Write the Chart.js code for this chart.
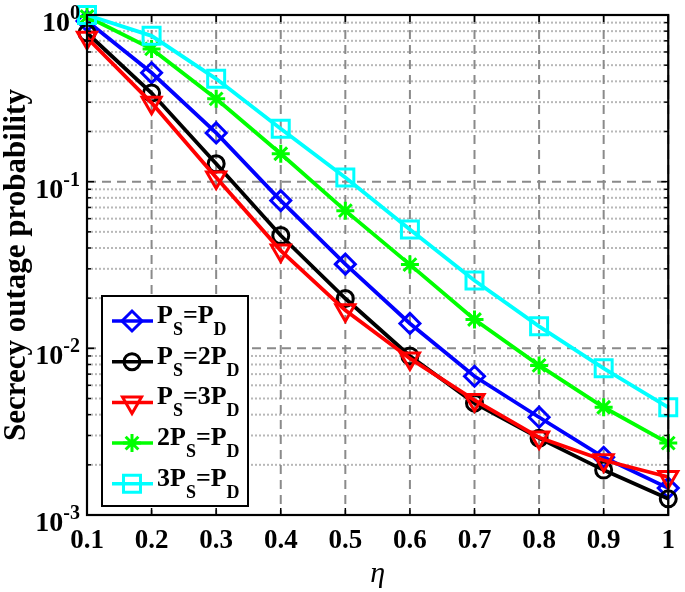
<!DOCTYPE html>
<html>
<head>
<meta charset="utf-8">
<script src="https://cdn.jsdelivr.net/npm/chart.js@4.4.1/dist/chart.umd.min.js"></script>
<style>
  html, body { margin: 0; padding: 0; background: #fff; }
</style>
</head>
<body>
<canvas id="chart" width="685" height="592"></canvas>
<script>
  // values
  const eta = [0.1, 0.2, 0.3, 0.4, 0.5, 0.6, 0.7, 0.8, 0.9, 1];
  const psEqPd   = [0.92, 0.45, 0.196, 0.077, 0.032, 0.0141, 0.0068, 0.00386, 0.00222, 0.00145];
  const psEq2Pd  = [0.78, 0.34, 0.128, 0.0475, 0.0199, 0.0090, 0.00469, 0.00289, 0.00186, 0.00125];
  const psEq3Pd  = [0.73, 0.297, 0.106, 0.0386, 0.0169, 0.0087, 0.00489, 0.00292, 0.00213, 0.00169];
  const ps2EqPd  = [0.98, 0.626, 0.314, 0.147, 0.067, 0.0318, 0.0149, 0.0079, 0.00443, 0.0027];
  const ps3EqPd  = [1.0, 0.75, 0.414, 0.208, 0.106, 0.0516, 0.0255, 0.01355, 0.00759, 0.00443];

  const xTicks = eta;
  const yDecades = [0.001, 0.01, 0.1, 1];
  const yMinorSteps = [2, 3, 4, 5, 6, 7, 8, 9];

  const seriesNames = ['P_S=P_D', 'P_S=2P_D', 'P_S=3P_D', '2P_S=P_D', '3P_S=P_D'];
  const seriesData = [psEqPd, psEq2Pd, psEq3Pd, ps2EqPd, ps3EqPd];
  const seriesColors = ['#0000ff', '#000000', '#ff0000', '#00ff00', '#00ffff'];
  const seriesMarkers = [
    { pointStyle: 'rectRot', radius: 10, rotation: 0 },
    { pointStyle: 'circle', radius: 8, rotation: 0 },
    { pointStyle: 'triangle', radius: 11, rotation: 180 },
    { pointStyle: 'star', radius: 9, rotation: 0 },
    { pointStyle: 'rect', radius: 12, rotation: 0 }
  ];

  const FONT = '"Liberation Serif", "Times New Roman", serif';

  const yTickValues = [];
  yDecades.forEach(d => {
    yTickValues.push(d);
    if (d < 1) yMinorSteps.forEach(m => yTickValues.push(m * d));
  });
  const isDecade = v => Math.abs(Math.log10(v) - Math.round(Math.log10(v))) < 1e-9;

  function seg(ctx, x1, y1, x2, y2) {
    ctx.beginPath(); ctx.moveTo(x1, y1); ctx.lineTo(x2, y2); ctx.stroke();
  }

  // text with one-character subscripts after "_"
  function drawSubText(ctx, str, x, y) {
    let cx = x;
    for (let i = 0; i < str.length; i++) {
      let ch = str[i], sub = false;
      if (ch === '_') { ch = str[++i]; sub = true; }
      ctx.font = sub ? 'bold 18px ' + FONT : 'bold 26px ' + FONT;
      ctx.fillText(ch, cx, sub ? y + 12 : y);
      cx += ctx.measureText(ch).width;
    }
  }

  const matlabAxes = {
    id: 'matlabAxes',
    beforeDatasetsDraw(chart) {
      const { ctx, chartArea: a, scales: { x, y } } = chart;
      ctx.save();
      ctx.lineWidth = 2;
      y.ticks.forEach(t => {
        const py = y.getPixelForValue(t.value);
        const major = isDecade(t.value);
        ctx.strokeStyle = major ? '#8a8a8a' : '#b8b8b8';
        ctx.setLineDash(major ? [9, 6] : [2, 2]);
        seg(ctx, a.left, py, a.right, py);
      });
      ctx.strokeStyle = '#8a8a8a';
      ctx.setLineDash([9, 6]);
      x.ticks.forEach(t => {
        const px = x.getPixelForValue(t.value);
        seg(ctx, px, a.top, px, a.bottom);
      });
      ctx.restore();
    },
    afterDraw(chart) {
      const { ctx, chartArea: a, scales: { x, y } } = chart;
      ctx.save();
      ctx.setLineDash([]);
      ctx.strokeStyle = '#000';
      ctx.lineWidth = 1.5;
      x.ticks.forEach(t => {
        const px = x.getPixelForValue(t.value);
        seg(ctx, px, a.bottom, px, a.bottom - 7);
        seg(ctx, px, a.top, px, a.top + 7);
      });
      y.ticks.forEach(t => {
        const py = y.getPixelForValue(t.value);
        const len = isDecade(t.value) ? 7 : 4;
        seg(ctx, a.left, py, a.left + len, py);
        seg(ctx, a.right, py, a.right - len, py);
      });
      ctx.lineWidth = 2.2;
      ctx.strokeRect(a.left, a.top, a.right - a.left, a.bottom - a.top);

      // y tick labels 10^n
      ctx.fillStyle = '#000';
      ctx.textAlign = 'right';
      ctx.textBaseline = 'alphabetic';
      yDecades.forEach(d => {
        const py = y.getPixelForValue(d);
        const expo = String(Math.round(Math.log10(d)));
        ctx.font = 'bold 20px ' + FONT;
        const ew = ctx.measureText(expo).width;
        ctx.fillText(expo, 80, py + 4);
        ctx.font = 'bold 28px ' + FONT;
        ctx.fillText('10', 80 - ew, py + 16);
      });

      // y axis title
      ctx.save();
      ctx.translate(25, (a.top + a.bottom) / 2);
      ctx.rotate(-Math.PI / 2);
      ctx.textAlign = 'center';
      ctx.font = 'bold 31px ' + FONT;
      ctx.fillText('Secrecy outage probability', 0, 0);
      ctx.restore();

      // legend
      const lx = 102, ly = 296, lw = 146, lh = 210, rowH = 40.7;
      ctx.fillStyle = '#fff';
      ctx.fillRect(lx, ly, lw, lh);
      ctx.strokeStyle = '#000';
      ctx.lineWidth = 2;
      ctx.strokeRect(lx, ly, lw, lh);
      seriesNames.forEach((name, i) => {
        const ry = ly + 25 + i * rowH;
        ctx.strokeStyle = seriesColors[i];
        ctx.lineWidth = 3.5;
        seg(ctx, lx + 10, ry, lx + 51, ry);
        ctx.fillStyle = 'rgba(0,0,0,0)';
        ctx.lineWidth = 3;
        Chart.helpers.drawPoint(ctx, { ...seriesMarkers[i], borderWidth: 3 }, lx + 30, ry);
        ctx.fillStyle = '#000';
        ctx.textAlign = 'left';
        drawSubText(ctx, name, lx + 55, ry + 2);
      });
      ctx.restore();
    }
  };

  const datasets = seriesNames.map((name, i) => ({
    label: name,
    data: seriesData[i],
    borderColor: seriesColors[i],
    backgroundColor: 'rgba(0,0,0,0)',
    borderWidth: 3.8,
    pointStyle: seriesMarkers[i].pointStyle,
    pointRadius: seriesMarkers[i].radius,
    pointRotation: seriesMarkers[i].rotation,
    pointBorderWidth: 3,
    pointBorderColor: seriesColors[i],
    pointBackgroundColor: 'rgba(0,0,0,0)',
    tension: 0,
    clip: false,
    order: 5 - i
  }));

  new Chart(document.getElementById('chart'), {
    type: 'line',
    data: { labels: eta, datasets },
    options: {
      responsive: false,
      animation: false,
      layout: { padding: { left: 0, right: 13, top: 14, bottom: 0 } },
      plugins: { legend: { display: false }, tooltip: { enabled: false } },
      scales: {
        x: {
          type: 'linear',
          min: 0.1, max: 1,
          afterBuildTicks: s => { s.ticks = xTicks.map(v => ({ value: v })); },
          afterFit: s => { s.height = 77; },
          grid: { display: false, drawTicks: false },
          border: { display: false },
          ticks: {
            color: '#000',
            padding: 10,
            maxRotation: 0,
            font: { family: FONT, size: 27, weight: 'bold' },
            callback: v => String(Math.round(v * 10) / 10)
          },
          title: {
            display: true,
            text: 'η',
            color: '#000',
            padding: { top: 0, bottom: 0 },
            font: { family: FONT, size: 30, style: 'italic' }
          }
        },
        y: {
          type: 'logarithmic',
          min: 0.001, max: 1,
          afterBuildTicks: s => { s.ticks = yTickValues.map(v => ({ value: v, major: isDecade(v) })); },
          afterFit: s => { s.width = 87; },
          grid: { display: false, drawTicks: false },
          border: { display: false },
          ticks: { display: false }
        }
      }
    },
    plugins: [matlabAxes]
  });
</script>
</body>
</html>
